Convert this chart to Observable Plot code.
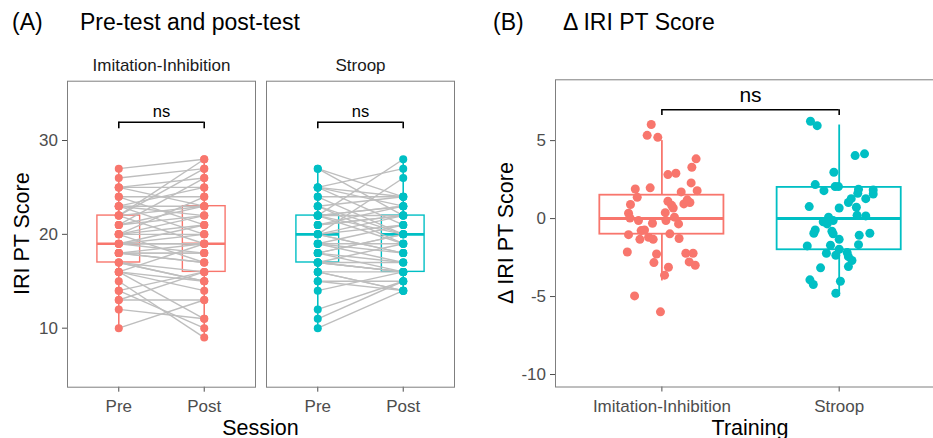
<!DOCTYPE html>
<html><head><meta charset="utf-8">
<script src="https://cdn.jsdelivr.net/npm/d3@7"></script>
<script src="https://cdn.jsdelivr.net/npm/@observablehq/plot@0.6"></script>
<style>
body{margin:0;background:#fff;}
#wrap{position:relative;width:933px;height:438px;overflow:hidden;background:#fff;}
#wrap > div.p{position:absolute;top:0;}
</style></head><body><div id="wrap"></div>
<script>
// ---------- data ----------
const trainings = ["Imitation-Inhibition", "Stroop"];
const sessions = ["Pre", "Post"];
const colors = ["#F8766D", "#00BFC4"];
const yTicksA = [10, 20, 30];
const yTicksB = [-10, -5, 0, 5];
const sigLabel = "ns";

// Panel A: paired IRI PT scores (pre, post) per participant
const iiPre  = [27,22,22,21,26,25,25,25,20,23,24,24,23,23,23,22,22,21,21,20,20,20,20,19,19,18,16,13,14,15,16,14,12,10,13,16,16,17,17,17,18,18,18,18,19,19,19];
const iiPost = [28,28,27,26,27,26,25,23,24,25,24,21,23,20,22,23,19,23,22,22,21,17,20,21,20,19,19,16,16,9,11,10,11,13,13,14,15,15,15,16,17,17,18,18,18,19,19];
const stPre  = [10,11,12,14,22,20,25,27,27,25,25,25,24,24,23,23,23,22,22,22,22,22,15,16,16,15,21,21,21,20,20,19,16,17,17,17,18,17,17,18,19,18,18,19,20,20,19];
const stPost = [14,15,15,16,28,26,27,24,22,24,21,23,24,20,24,20,19,23,22,20,23,19,14,14,14,15,23,22,22,22,21,21,16,16,16,16,16,17,19,17,17,20,20,18,18,18,19];

// Panel B: jittered delta points as drawn (value, horizontal jitter in category units)
const bIIy = [6.03,5.34,5.21,3.83,3.29,2.82,2.91,2.29,1.90,1.97,1.71,1.79,1.37,0.90,1.11,0.68,0.94,1.03,1.20,0.34,0.04,-0.13,0.38,-0.13,0.09,-0.34,-0.30,-1.03,-0.77,-0.73,-1.33,-1.20,-1.33,-0.98,-1.28,-2.14,-2.27,-2.82,-2.22,-2.22,-2.78,-2.99,-3.12,-3.63,-4.96,-5.98,0.85];
const bIIjit = [-0.060,-0.083,-0.023,0.193,0.169,0.034,0.079,0.165,-0.150,-0.066,0.109,0.199,-0.139,-0.177,0.034,0.064,0.124,0.158,0.143,-0.188,-0.180,-0.132,0.019,0.023,0.071,0.094,-0.053,-0.188,-0.117,-0.098,-0.124,-0.075,-0.049,0.045,0.097,-0.195,-0.030,-0.045,0.135,0.176,0.154,0.188,0.037,0.015,-0.154,-0.008,0.055];
const bSTy = [6.24,5.96,4.04,4.15,2.97,2.18,1.79,2.05,2.05,1.88,1.62,1.84,1.58,1.28,1.28,1.03,0.77,0.68,0.73,0.21,0.17,0.09,-0.13,-0.21,-0.34,-0.73,-0.94,-0.81,-0.98,-1.07,-0.94,-1.33,-1.75,-1.71,-1.67,-1.97,-2.22,-2.35,-2.18,-2.44,-2.69,-3.08,-3.16,-3.93,-4.23,-4.02,-4.79];
const bSTjit = [-0.162,-0.124,0.090,0.143,-0.030,-0.135,-0.086,-0.023,-0.004,0.109,0.105,0.192,0.192,0.150,0.068,0.052,-0.169,0.000,0.097,0.101,0.150,-0.060,-0.034,-0.090,-0.068,-0.135,-0.143,-0.041,-0.034,0.113,0.173,0.000,-0.180,-0.049,0.109,0.000,-0.072,-0.019,0.045,0.052,0.072,0.052,-0.105,-0.165,-0.146,0.007,-0.019];

// ---------- helpers ----------
const FONT = "'Liberation Sans', Arial, Helvetica, sans-serif";
function stats(v) {
  const s = v.slice().sort(d3.ascending);
  const q1 = d3.quantile(s, 0.25), med = d3.quantile(s, 0.5), q3 = d3.quantile(s, 0.75);
  const iqr = q3 - q1;
  return {q1, med, q3,
    lo: d3.min(s.filter(d => d >= q1 - 1.5 * iqr)),
    hi: d3.max(s.filter(d => d <= q3 + 1.5 * iqr))};
}
const wrap = document.getElementById("wrap");
function place(node, left) {
  const d = document.createElement("div");
  d.className = "p"; d.style.left = left + "px";
  d.appendChild(node); wrap.appendChild(d);
}

// ---------- Panel A facets ----------
function facetA(k, width, mL, mR, showY) {
  const pre = k ? stPre : iiPre, post = k ? stPost : iiPost;
  const col = colors[k];
  const pairs = pre.map((p, i) => ({pre: p, post: post[i]}));
  const long = [];
  pre.forEach((v, i) => { long.push({s: 1, v}); long.push({s: 2, v: post[i]}); });
  const boxes = [stats(pre), stats(post)].map((st, i) => ({...st, s: i + 1}));
  const hw = 0.25;
  return Plot.plot({
    width, height: 438,
    marginLeft: mL, marginRight: mR, marginTop: 80.7, marginBottom: 51.3,
    style: {fontFamily: FONT, fontSize: "17px", color: "#4d4d4d", background: "transparent"},
    x: {domain: [0.4, 2.6], ticks: [1, 2], tickFormat: d => sessions[d - 1], tickSize: 5, tickPadding: 8, label: null},
    y: {domain: [3.71, 36.32], ticks: yTicksA, tickFormat: d => String(d), tickSize: 5, tickPadding: 4.5, label: null, axis: showY ? "left" : null},
    marks: [
      Plot.frame({stroke: "#7f7f7f", strokeWidth: 1}),
      Plot.ruleX(boxes, {x: "s", y1: "lo", y2: "q1", stroke: col, strokeWidth: 1.6}),
      Plot.ruleX(boxes, {x: "s", y1: "q3", y2: "hi", stroke: col, strokeWidth: 1.6}),
      Plot.rect(boxes, {x1: d => d.s - hw, x2: d => d.s + hw, y1: "q1", y2: "q3", stroke: col, fill: "none", strokeWidth: 1.4}),
      Plot.ruleY(boxes, {y: "med", x1: d => d.s - hw, x2: d => d.s + hw, stroke: col, strokeWidth: 2.6}),
      Plot.link(pairs, {x1: () => 1, x2: () => 2, y1: "pre", y2: "post", stroke: "#bebebe", strokeWidth: 1.4}),
      Plot.dot(long, {x: "s", y: "v", r: 4, fill: col}),
      Plot.ruleY([31.95], {x1: () => 1, x2: () => 2, stroke: "#000", strokeWidth: 1.6}),
      Plot.ruleX([1, 2], {y1: () => 31.25, y2: () => 31.95, stroke: "#000", strokeWidth: 1.6}),
      Plot.text([sigLabel], {x: () => 1.5, y: () => 32.48, text: d => d, lineAnchor: "bottom", fontSize: 16.5, fill: "#000"}),
      Plot.text([trainings[k]], {frameAnchor: "top", dy: -10.7, text: d => d, lineAnchor: "bottom", fontSize: 17, fill: "#1a1a1a"})
    ]
  });
}
place(facetA(0, 260, 67, 5, true), 0);
place(facetA(1, 200, 6, 6, false), 260);

// ---------- Panel B ----------
const unitB = 177.3, mLB = 85, wB = 463, mRB = -3;
const bData = [];
bIIy.forEach((y, i) => bData.push({g: 0, x: 1 + bIIjit[i], y}));
bSTy.forEach((y, i) => bData.push({g: 1, x: 2 + bSTjit[i], y}));
const dII = iiPost.map((v, i) => v - iiPre[i]);
const dST = stPost.map((v, i) => v - stPre[i]);
const bBoxes = [stats(dII), stats(dST)].map((st, i) => ({...st, t: i + 1, g: i}));
const hwB = 0.35;
const plotB = Plot.plot({
  width: wB, height: 438,
  marginLeft: mLB, marginRight: mRB, marginTop: 79.3, marginBottom: 51.5,
  style: {fontFamily: FONT, fontSize: "17px", color: "#4d4d4d", background: "transparent"},
  x: {domain: [0.4, 0.4 + (wB - mLB - mRB) / unitB], ticks: [1, 2], tickFormat: d => trainings[d - 1], tickSize: 5, tickPadding: 8, label: null},
  y: {domain: [-10.8, 8.9], ticks: yTicksB, tickFormat: d => String(d), tickSize: 5, tickPadding: 4.5, label: null},
  marks: [
    Plot.frame({stroke: "#7f7f7f", strokeWidth: 1}),
    Plot.ruleX(bBoxes, {x: "t", y1: "lo", y2: "q1", stroke: d => colors[d.g], strokeWidth: 1.8}),
    Plot.ruleX(bBoxes, {x: "t", y1: "q3", y2: "hi", stroke: d => colors[d.g], strokeWidth: 1.8}),
    Plot.rect(bBoxes, {x1: d => d.t - hwB, x2: d => d.t + hwB, y1: "q1", y2: "q3", stroke: d => colors[d.g], fill: "none", strokeWidth: 1.8}),
    Plot.ruleY(bBoxes, {y: "med", x1: d => d.t - hwB, x2: d => d.t + hwB, stroke: d => colors[d.g], strokeWidth: 3}),
    Plot.dot(bData, {x: "x", y: "y", r: 4.5, fill: d => colors[d.g]}),
    Plot.ruleY([6.98], {x1: () => 1, x2: () => 2, stroke: "#000", strokeWidth: 1.6}),
    Plot.ruleX([1, 2], {y1: () => 6.61, y2: () => 6.98, stroke: "#000", strokeWidth: 1.6}),
    Plot.text([sigLabel], {x: () => 1.5, y: () => 7.46, text: d => d, lineAnchor: "bottom", fontSize: 21, fill: "#000"})
  ]
});
place(plotB, 470);

// ---------- titles (overlay) ----------
const ov = d3.select(wrap).append("svg")
  .attr("width", 933).attr("height", 438)
  .style("position", "absolute").style("left", 0).style("top", 0)
  .style("pointer-events", "none").style("font-family", FONT);
const T = (x, y, s, size, anchor, rot) => {
  const t = ov.append("text").text(s).attr("font-size", size).attr("fill", "#000")
    .attr("text-anchor", anchor || "start");
  if (rot) t.attr("transform", `translate(${x},${y}) rotate(-90)`);
  else t.attr("x", x).attr("y", y);
};
T(12, 30, "(A)", 23);
T(80, 30, "Pre-test and post-test", 23);
T(493, 30, "(B)", 23);
T(563, 30, "\u0394 IRI PT Score", 23);
T(260.5, 434.5, "Session", 21.5, "middle");
T(750, 434.5, "Training", 21.5, "middle");
T(28.5, 233.7, "IRI PT Score", 21.5, "middle", true);
T(513, 233, "\u0394 IRI PT Score", 21.5, "middle", true);
</script></body></html>
